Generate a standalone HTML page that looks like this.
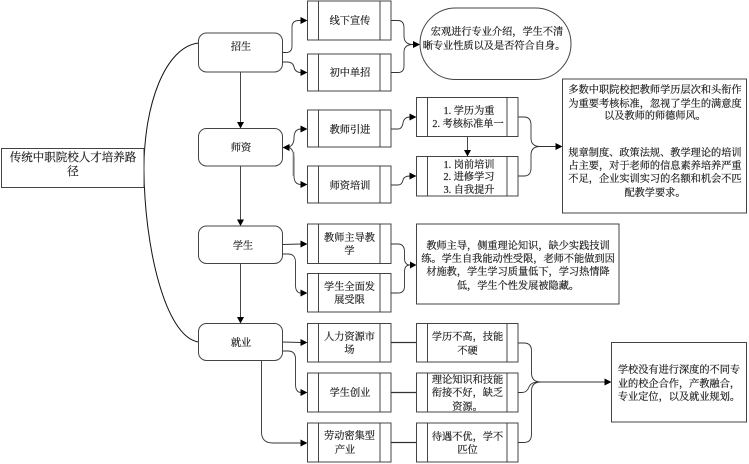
<!DOCTYPE html>
<html><head><meta charset="utf-8"><style>
html,body{margin:0;padding:0;background:#fff}
svg{display:block}
text{font-family:"Liberation Serif","Noto Serif CJK SC",serif;font-size:10.2px;fill:#222;text-anchor:middle;stroke:#222;stroke-width:.2}
.b{fill:#fff;stroke:#444;stroke-width:1}
.l{fill:none;stroke:#333;stroke-width:.9}
.a{fill:#000;stroke:none}
</style></head><body>
<svg width="749" height="464" viewBox="0 0 749 464" xmlns="http://www.w3.org/2000/svg">
<!-- trunk curve -->
<path class="l" style="stroke:#111;stroke-width:1" d="M198.500 43 C165 47 144 105 144 168 C144 245 165 337 198.500 342"/>
<!-- title -->
<rect class="b" x="1.500" y="148.500" width="142.500" height="39"/>
<text x="73" y="161" style="font-size:11.500px">传统中职院校人才培养路</text>
<text x="73" y="175" style="font-size:11.500px">径</text>
<!-- vertical arrows -->
<path class="l" d="M240.500 72V122M240.500 166V220M240.500 263.500V317M261.500 360.500V432Q261.500 443 273 443H301"/>
<path class="a" d="M237 122h7l-3.500 6.500zM237 219.500h7l-3.500 6.500zM237 317h7l-3.500 6.500zM300.500 439.500v7l7-3.500z"/>
<!-- left nodes -->
<rect class="b" x="198.500" y="33" width="84" height="39" rx="8"/>
<rect class="b" x="198.500" y="128.500" width="84" height="37.500" rx="8"/>
<rect class="b" x="198.500" y="226" width="84" height="37.500" rx="8"/>
<rect class="b" x="198.500" y="323.500" width="84" height="37" rx="8"/>
<text x="241" y="50">招生</text>
<text x="241" y="151">师资</text>
<text x="243" y="249">学生</text>
<text x="241" y="346">就业</text>
<!-- branch connectors -->
<path class="l" d="M282.500 52.500H286Q292 52.500 292 46V27Q292 20.500 299 20.500H301M282.500 62H287Q293 62 294 67Q295 72.500 301 72.500"/>
<path class="l" d="M289 147Q294 145 294 138Q294 129 301 129M289 147Q294 150 294 158V176Q294 184.500 301 184.500"/>
<path class="l" style="stroke:#777;stroke-width:1.600" d="M293.500 152V176"/>
<path class="l" d="M282.500 244.500L301 244M282.500 254H288Q295.500 254 295.500 262V285Q295.500 293 301 293"/>
<path class="l" d="M282.500 342L301 342.500M282.500 351H288Q295.500 351 295.500 359V384Q295.500 392.500 301 392.500"/>
<path class="a" d="M300.500 17v7l7-3.500zM300.500 69v7l7-3.500zM300.500 125.500v7l7-3.500zM300.500 181v7l7-3.500zM300.500 240.500v7l7-3.500zM300.500 289.500v7l7-3.500zM300.500 339v7l7-3.500zM300.500 389v7l7-3.500zM282.500 147.500l7-3.500v7z"/>
<!-- second column boxes -->
<rect class="b" x="307.500" y="1" width="83.500" height="39"/><path class="l" d="M318.500 1V40M380 1V40"/>
<rect class="b" x="307.500" y="54" width="83.500" height="37"/><path class="l" d="M318.500 54V91M380 54V91"/>
<rect class="b" x="307.500" y="110" width="83.500" height="37"/><path class="l" d="M318.500 110V147M380 110V147"/>
<rect class="b" x="307.500" y="166" width="83.500" height="37"/><path class="l" d="M318.500 166V203M380 166V203"/>
<rect class="b" x="307.500" y="224" width="83.500" height="39.500"/><path class="l" d="M318.500 224V263.500M380 224V263.500"/>
<rect class="b" x="307.500" y="273.500" width="83.500" height="38.500"/><path class="l" d="M318.500 273.500V312M380 273.500V312"/>
<rect class="b" x="307.500" y="323.500" width="83.500" height="38.500"/><path class="l" d="M318.500 323.500V362M380 323.500V362"/>
<rect class="b" x="307.500" y="373" width="83.500" height="39"/><path class="l" d="M318.500 373V412M380 373V412"/>
<rect class="b" x="307.500" y="423" width="83.500" height="39"/><path class="l" d="M318.500 423V462M380 423V462"/>
<text x="350" y="24">线下宣传</text>
<text x="350" y="76">初中单招</text>
<text x="350" y="133">教师引进</text>
<text x="350" y="189">师资培训</text>
<text x="349.500" y="241">教师主导教</text>
<text x="349.500" y="254">学</text>
<text x="349.500" y="290">学生全面发</text>
<text x="349.500" y="303">展受限</text>
<text x="349.500" y="340">人力资源市</text>
<text x="349.500" y="353">场</text>
<text x="350" y="396">学生创业</text>
<text x="349.500" y="439">劳动密集型</text>
<text x="345" y="453">产业</text>
<!-- connectors to third column -->
<path class="l" d="M391 20.500H398Q404 20.500 404 28V36Q404 44.500 413 44.500M391 72.500H398Q404 72.500 404 66V52Q404 44.500 413 44.500"/>
<path class="a" d="M413 41v7l7-3.500z"/>
<path class="l" d="M391 129H398Q402 129 403 123Q404 117 410 117M391 185H398Q402 185 403 180Q404 176 410 176"/>
<path class="a" d="M409.500 113.500v7l7-3.500zM409.500 172.500v7l7-3.500z"/>
<path class="l" d="M467.500 136.500V151"/>
<path class="a" d="M464 150h7l-3.500 6.500z"/>
<path class="l" d="M518 117H524Q531 117 531 125V138Q531 146.500 540 146.500H556M518 176H524Q531 176 531 168V155Q531 146.500 540 146.500"/>
<path class="a" d="M555.500 143v7l7-3.500z"/>
<path class="l" d="M391 244H398Q404.500 244 404.500 252V258Q404.500 265 410 265M391 293H398Q404.500 293 404.500 286V272Q404.500 265 410 265"/>
<path class="a" d="M410 261.500v7l6.500-3.500z"/>
<path class="l" style="stroke-width:1.200" d="M391 342.500H416.500M391 392.500H416.500M391 442.500H416.500"/>
<path class="l" d="M518 343H524Q531.500 343 531.500 351V373Q531.500 382 541 382H605M518 392.500H522Q527 392.500 529 387Q531 382 539 382M518 442.500H524Q531.500 442.500 531.500 434V391Q531.500 382 541 382"/>
<path class="a" d="M604.500 378.500v7l7-3.500z"/>
<!-- third column -->
<rect class="b" x="420" y="8" width="151" height="71.500" rx="35.700"/>
<text x="497" y="35">宏观进行专业介绍，学生不清</text>
<text x="494" y="49">晰专业性质以及是否符合自身。</text>
<rect class="b" x="416.500" y="97.500" width="101.500" height="39"/><path class="l" d="M427.500 97.500V136.500M507 97.500V136.500"/>
<text x="469" y="114">1. 学历为重</text>
<text x="468" y="127">2. 考核标准单一</text>
<rect class="b" x="416.500" y="156.500" width="101.500" height="39.500"/><path class="l" d="M427.500 156.500V196M507 156.500V196"/>
<text x="469" y="168">1. 岗前培训</text>
<text x="469" y="180">2. 进修学习</text>
<text x="469" y="193">3. 自我提升</text>
<rect class="b" x="416.500" y="224" width="202.500" height="80"/>
<text x="518" y="249">教师主导，侧重理论知识，缺少实践技训</text>
<text x="518" y="262">练。学生自我能动性受限，老师不能做到因</text>
<text x="518" y="275">材施教，学生学习质量低下，学习热情降</text>
<text x="518" y="289">低，学生个性发展被隐藏。</text>
<rect class="b" x="416.500" y="323.500" width="101.500" height="38.500"/><path class="l" d="M427.500 323.500V362M507 323.500V362"/>
<text x="467.500" y="340">学历不高，技能</text>
<text x="467.500" y="354">不硬</text>
<rect class="b" x="416.500" y="373" width="101.500" height="39"/><path class="l" d="M427.500 373V412M507 373V412"/>
<text x="467.500" y="383">理论知识和技能</text>
<text x="467.500" y="396">衔接不好，缺乏</text>
<text x="467.500" y="410">资源。</text>
<rect class="b" x="416.500" y="423" width="101.500" height="39"/><path class="l" d="M427.500 423V462M507 423V462"/>
<text x="467.500" y="440">待遇不优，学不</text>
<text x="467.500" y="453">匹位</text>
<!-- right boxes -->
<rect class="b" x="562.500" y="79" width="184" height="134"/>
<text x="655" y="93">多数中职院校把教师学历层次和头衔作</text>
<text x="655" y="107">为重要考核标准，忽视了学生的满意度</text>
<text x="655" y="119">以及教师的师德师风。</text>
<text x="655" y="156">规章制度、政策法规、教学理论的培训</text>
<text x="655" y="169">占主要，对于老师的信息素养培养严重</text>
<text x="655" y="182">不足，企业实训实习的名额和机会不匹</text>
<text x="655" y="196">配教学要求。</text>
<rect class="b" x="611.500" y="342.500" width="135" height="79.500"/>
<text x="679" y="373">学校没有进行深度的不同专</text>
<text x="679" y="387">业的校企合作，产教融合，</text>
<text x="679" y="400">专业定位，以及就业规划。</text>
</svg>
</body></html>
